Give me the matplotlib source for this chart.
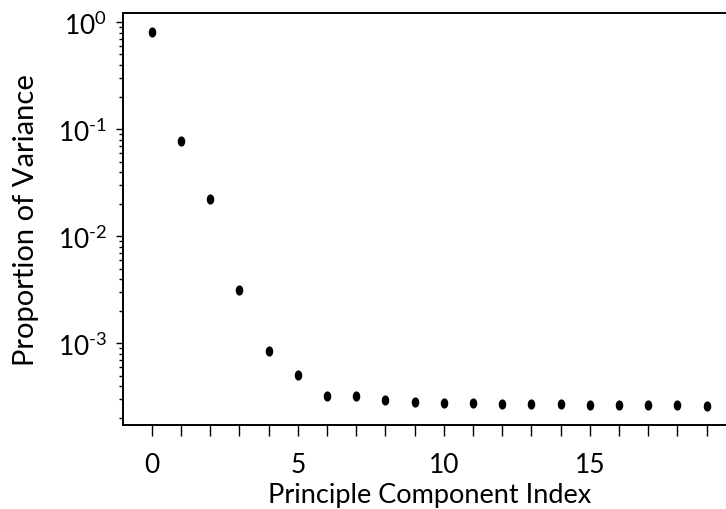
import numpy as np
import matplotlib
matplotlib.use('Agg')
import matplotlib.pyplot as plt
from matplotlib.path import Path
from matplotlib.transforms import Affine2D
from matplotlib.ticker import FuncFormatter

plt.rcParams.update({
    'font.family': ['Lato', 'DejaVu Sans'],
    'mathtext.fontset': 'custom',
    'mathtext.rm': 'Lato',
    'mathtext.default': 'regular',
    'axes.unicode_minus': False,
})

# explained variance ratio per principal component
component = np.arange(20)
variance = [0.81, 0.078, 0.0222, 0.00313, 8.5e-4, 5.06e-4, 3.23e-4, 3.2e-4,
            2.95e-4, 2.81e-4, 2.77e-4, 2.75e-4, 2.73e-4, 2.71e-4, 2.69e-4,
            2.67e-4, 2.65e-4, 2.64e-4, 2.63e-4, 2.61e-4]
xtick_labels = [0, 5, 10, 15]

# slightly tall elliptical dot
dot = Path.unit_circle().transformed(Affine2D().scale(0.7, 1.0))


def decade_label(val, pos):
    exp = int(round(np.log10(val)))
    return r'$10^{\text{%d}}$' % exp


fig = plt.figure(figsize=(7.26, 5.10), dpi=100)
ax = fig.add_axes([0.169, 0.1653, 0.8446, 0.8072])
ax.scatter(component, variance, marker=dot, s=40, color='black', zorder=3)

ax.set_yscale('log')
ax.set_ylim(1.74e-4, 1.22)
ax.yaxis.set_major_formatter(FuncFormatter(decade_label))
ax.set_xlim(-1, 20)
ax.set_xticks(range(20))
ax.set_xticklabels([str(i) if i in xtick_labels else '' for i in range(20)])

ax.spines['right'].set_visible(False)
for side in ['left', 'top', 'bottom']:
    ax.spines[side].set_linewidth(1.4)

ax.tick_params(axis='x', which='major', length=8, width=1, labelsize=19, pad=12)
ax.tick_params(axis='y', which='major', length=5, width=1, labelsize=19, pad=6)
ax.tick_params(axis='y', which='minor', length=3, width=1)

ax.set_xlabel('Principle Component Index', fontsize=19.5, labelpad=3)
ax.set_ylabel('Proportion of Variance', fontsize=21, labelpad=14)

fig.savefig('out.png', dpi=100)
